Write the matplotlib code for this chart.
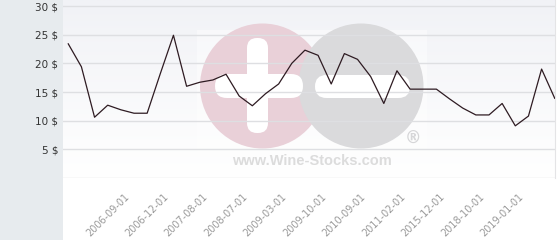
import numpy as np
import matplotlib
matplotlib.use('Agg')
import matplotlib.pyplot as plt
from matplotlib.patches import Circle, FancyBboxPatch, Rectangle
from matplotlib.transforms import ScaledTranslation

# prices per point (category index 0..37)
prices = [23.4, 19.4, 10.6, 12.7, 11.9, 11.3, 11.3, 18.2, 24.9, 16.0,
          16.7, 17.1, 18.1, 14.3, 12.6, 14.7, 16.4, 20.0, 22.3, 21.4,
          16.4, 21.7, 20.7, 17.7, 13.0, 18.7, 15.5, 15.5, 15.5, 13.8,
          12.2, 11.0, 11.0, 13.0, 9.1, 10.8, 19.0, 13.9]
tick_pos = [4, 7, 10, 13, 16, 19, 22, 25, 28, 31, 34]
tick_labels = ['2006-09-01', '2006-12-01', '2007-08-01', '2008-07-01',
               '2009-03-01', '2009-10-01', '2010-09-01', '2011-02-01',
               '2015-12-01', '2018-10-01', '2019-01-01']
y_ticks = [5, 10, 15, 20, 25, 30]

W, H = 560, 240
fig = plt.figure(figsize=(W / 100, H / 100), dpi=100)
fig.patch.set_facecolor('white')

# grey panel on the left
fig.patches.append(Rectangle((0, 0), 63 / W, 1, transform=fig.transFigure,
                             facecolor='#e7ebee', edgecolor='none', zorder=-5))

ax = fig.add_axes([63 / W, 1 - 178 / H, 492 / W, 178 / H])
ax.set_facecolor('white')
x = np.arange(len(prices))
ax.set_xlim(-0.40, 37.02)
ax.set_ylim(0, 31.05)

# soft gradient background
grad = np.linspace(0, 1, 100).reshape(-1, 1)
ax.imshow(grad, extent=(-0.40, 37.02, 0, 31.05), aspect='auto',
          cmap=matplotlib.colors.LinearSegmentedColormap.from_list(
              'bg', ['#ffffff', '#f1f2f6']),
          origin='lower', zorder=0)

# watermark (drawn in pixel space)
px = matplotlib.transforms.Affine2D().scale(1, -1).translate(0, H)


def pix(artist):
    artist.set_transform(px)
    artist.set_clip_on(False)
    ax.add_artist(artist)


pix(Rectangle((197, 30), 230, 146, facecolor='#ffffff', edgecolor='none',
              alpha=0.45, zorder=0.5))
pix(Circle((262.5, 86), 62.5, facecolor='#e9d0d8', edgecolor='none', zorder=0.6))
pix(Circle((361, 86), 62.5, facecolor='#dadadc', edgecolor='none', zorder=0.7))
pix(FancyBboxPatch((247, 38), 21, 95, boxstyle='round,pad=0,rounding_size=10',
                   facecolor='white', edgecolor='none', zorder=0.8))
pix(FancyBboxPatch((215, 74), 88, 24, boxstyle='round,pad=0,rounding_size=12',
                   facecolor='white', edgecolor='none', zorder=0.8))
pix(FancyBboxPatch((315, 75), 95, 23, boxstyle='round,pad=0,rounding_size=11.5',
                   facecolor='white', edgecolor='none', zorder=0.8))
ax.text(413, 139, '\u00ae', transform=px, fontsize=12, color='#d6d6d8',
        ha='center', va='center', fontweight='bold', zorder=0.9)
ax.text(312, 161, 'www.Wine-Stocks.com', transform=px, fontsize=10.5,
        color='#dcdcdc', ha='center', va='center', fontweight='bold',
        family='Liberation Sans', zorder=0.9)

# grid lines
for yv in y_ticks:
    ax.axhline(yv, color='#dedfe2', lw=1, zorder=1)
ax.axhline(0, color='#dcdcdc', lw=1, zorder=1)

ax.plot(x, prices, color='#2e1b22', lw=0.9, zorder=3)

for s in ax.spines.values():
    s.set_visible(False)
ax.spines['right'].set_visible(True)
ax.spines['right'].set_color('#e4e4e6')

ax.set_yticks(y_ticks)
ax.set_yticklabels([f'{v} $' for v in y_ticks], fontsize=7.5, color='#333333')
ax.tick_params(axis='y', length=0, pad=3.5)

ax.set_xticks(tick_pos)
ax.set_xticklabels(tick_labels, rotation=45, ha='right', rotation_mode='anchor',
                   fontsize=7, color='#9a9a9a')
ax.tick_params(axis='x', length=0, pad=10)
for lbl in ax.get_xticklabels():
    lbl.set_transform(lbl.get_transform() + ScaledTranslation(3 / 100, 0, fig.dpi_scale_trans))

fig.savefig('out.png', dpi=100)
